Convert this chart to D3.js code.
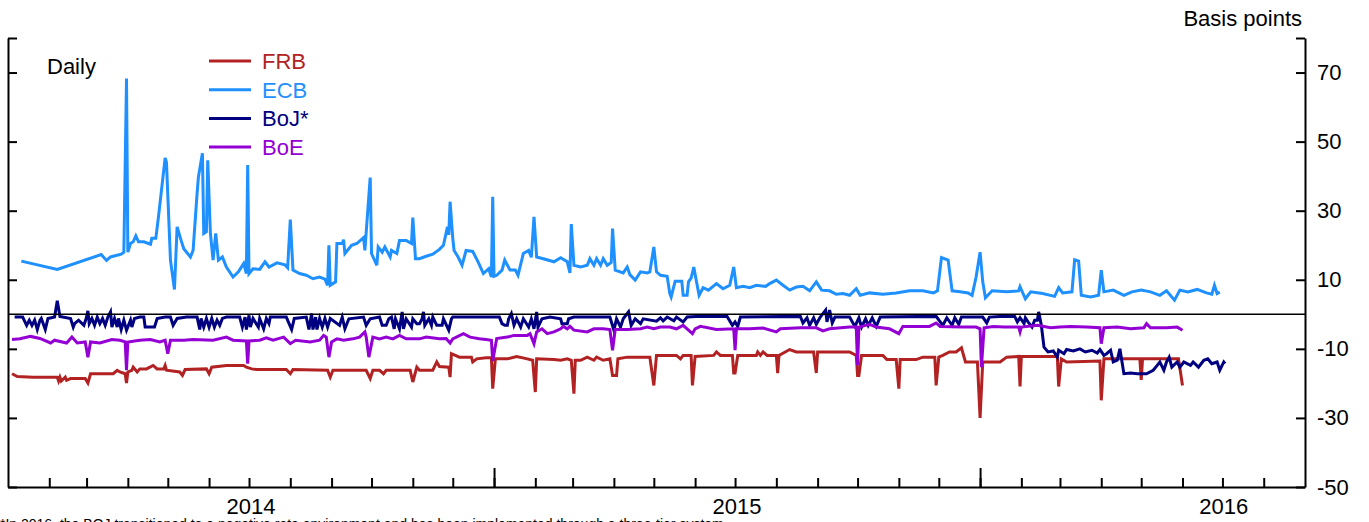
<!DOCTYPE html>
<html lang="en">
<head>
  <meta charset="UTF-8">
  <title>Overnight rates relative to policy rates</title>
  <style>
    body {
      margin: 0;
      background: #fff;
      font-family: "Liberation Sans", Arial, sans-serif;
    }
    svg { display: block; }
    .axis path, .axis line { stroke: #000; stroke-width: 2; }
    .axis text { font-family: "Liberation Sans", Arial, sans-serif; font-size: 22px; fill: #000; }
  </style>
</head>
<body>
  <div id="chart"></div>

  <script src="https://d3js.org/d3.v7.min.js"></script>
  <script>
    // Each point: [days since 1 Jan 2014, basis points]
    const frb = [[3,-17.2],[7,-18.0],[19,-18.2],[37,-18.2],[38,-19.3],[39,-18.2],[40,-19.3],[43,-18.2],[44,-19.1],[47,-18.6],[58,-18.6],[60,-19.9],[62,-17.2],[79,-17.2],[82,-16.2],[84,-16.7],[88,-17.2],[89,-19.9],[90,-16.7],[93,-16.2],[94,-15.3],[97,-16.7],[99,-15.8],[104,-15.8],[109,-14.8],[112,-15.8],[117,-15.8],[118,-14.8],[119,-16.2],[129,-16.7],[131,-17.7],[133,-16.0],[149,-15.8],[151,-17.2],[153,-15.3],[164,-14.8],[177,-14.8],[179,-15.3],[183,-15.8],[187,-16.0],[209,-16.0],[212,-17.2],[214,-16.0],[240,-16.2],[242,-18.2],[244,-16.2],[269,-16.2],[272,-18.6],[274,-16.2],[279,-16.2],[282,-17.2],[284,-16.2],[302,-16.2],[304,-19.6],[307,-15.3],[309,-16.2],[319,-16.2],[322,-13.8],[324,-15.1],[331,-15.3],[332,-18.2],[333,-11.4],[339,-12.4],[348,-12.4],[349,-13.8],[352,-12.9],[359,-12.6],[363,-12.6],[364,-21.5],[366,-12.9],[375,-12.9],[382,-12.2],[390,-12.9],[394,-13.3],[396,-22.5],[397,-12.9],[410,-13.1],[415,-13.3],[420,-12.9],[423,-13.3],[425,-23.0],[426,-13.3],[430,-13.3],[435,-12.4],[440,-13.3],[442,-12.4],[447,-13.3],[452,-12.9],[454,-17.7],[457,-17.7],[458,-12.9],[465,-12.4],[475,-12.4],[482,-12.4],[485,-20.6],[487,-11.9],[502,-11.9],[505,-12.9],[507,-11.9],[513,-11.9],[514,-20.6],[516,-12.2],[530,-11.9],[532,-10.9],[535,-11.9],[544,-11.9],[545,-17.0],[546,-17.0],[548,-11.9],[562,-11.9],[563,-10.9],[565,-11.9],[567,-10.9],[570,-11.9],[577,-11.9],[578,-17.0],[579,-11.9],[587,-10.2],[592,-10.9],[605,-10.9],[607,-17.0],[608,-10.9],[632,-10.9],[637,-11.9],[638,-17.7],[639,-17.7],[641,-11.9],[657,-11.9],[660,-13.1],[667,-13.1],[669,-21.5],[670,-13.1],[682,-13.1],[687,-12.4],[696,-12.4],[697,-20.6],[699,-12.4],[702,-11.9],[707,-10.9],[712,-10.9],[716,-9.7],[719,-13.8],[728,-13.8],[730,-30.0],[732,-13.8],[745,-13.8],[750,-12.4],[759,-12.2],[760,-20.9],[761,-12.2],[788,-12.2],[789,-20.9],[791,-12.9],[795,-13.8],[820,-13.5],[821,-24.9],[823,-12.9],[850,-12.9],[851,-19.0],[852,-12.9],[879,-12.9],[882,-20.6]];

    const ecb = [[10,15.4],[37,13.0],[70,17.3],[74,15.6],[77,16.6],[85,17.4],[87,18.0],[89,68.3],[90,18.0],[92,20.5],[94,21.0],[96,22.7],[98,21.0],[102,21.0],[107,20.3],[108,22.0],[111,22.0],[113,28.2],[118,45.3],[119,44.0],[122,15.7],[125,7.2],[127,25.3],[130,21.4],[132,19.0],[137,16.6],[139,18.5],[142,35.0],[143,39.8],[146,46.6],[147,23.4],[149,23.9],[150,44.6],[152,23.4],[154,15.7],[156,23.4],[158,15.7],[161,16.6],[164,13.7],[169,10.8],[173,12.3],[177,14.7],[179,11.8],[180,43.2],[181,11.8],[184,13.2],[189,13.0],[193,15.2],[196,13.7],[202,14.9],[208,14.3],[210,13.5],[212,27.4],[214,12.8],[219,11.8],[224,11.3],[229,10.3],[234,10.8],[238,10.2],[240,8.4],[241,20.0],[242,8.4],[246,9.4],[247,20.5],[251,20.5],[252,21.6],[253,17.6],[258,20.0],[262,20.5],[267,22.2],[268,18.5],[272,39.6],[273,17.6],[277,14.2],[278,19.5],[281,18.0],[283,19.5],[287,16.6],[288,18.5],[292,17.6],[294,21.4],[299,21.4],[303,20.5],[304,28.0],[306,16.1],[309,16.1],[314,16.8],[319,17.4],[324,18.8],[327,20.0],[330,25.3],[331,23.0],[332,32.6],[334,22.0],[335,18.5],[338,16.6],[341,14.2],[344,18.5],[349,18.2],[353,15.2],[357,11.8],[361,13.2],[363,10.8],[364,34.0],[365,11.0],[367,11.3],[371,12.8],[373,15.7],[377,12.8],[381,12.8],[383,11.3],[387,17.6],[391,18.5],[393,16.5],[395,28.2],[397,16.6],[402,16.1],[410,15.2],[415,16.4],[420,15.2],[422,12.0],[423,26.1],[425,14.2],[430,13.7],[435,14.2],[437,16.1],[440,14.2],[442,16.1],[445,14.2],[447,16.1],[450,14.2],[453,15.0],[454,24.8],[456,12.8],[462,12.0],[465,13.7],[467,11.5],[471,9.9],[475,12.3],[480,12.0],[482,12.3],[485,19.5],[487,12.3],[490,11.3],[495,11.0],[497,6.0],[498,5.0],[501,9.6],[506,9.6],[507,5.5],[510,5.5],[511,9.4],[513,10.5],[515,13.7],[517,9.5],[519,5.5],[522,7.7],[526,7.0],[532,8.9],[537,7.4],[542,8.4],[545,13.7],[547,7.7],[552,8.1],[557,7.7],[562,8.4],[569,8.1],[572,8.9],[577,9.9],[582,8.4],[587,7.0],[592,7.9],[597,8.1],[602,6.8],[607,9.4],[611,7.0],[617,6.8],[622,5.8],[627,6.0],[632,5.5],[637,7.4],[640,5.5],[647,6.2],[657,5.8],[667,6.2],[677,6.8],[687,6.8],[695,6.2],[698,6.8],[701,16.4],[706,15.7],[709,6.8],[715,6.5],[721,6.2],[724,5.5],[727,10.8],[730,18.0],[732,9.4],[734,4.8],[739,6.8],[750,6.5],[759,6.8],[760,8.0],[764,4.5],[768,6.5],[777,6.0],[786,5.2],[789,7.7],[792,6.2],[799,6.5],[801,15.8],[804,15.4],[806,5.5],[813,5.0],[819,5.5],[821,12.8],[823,6.5],[830,7.0],[838,5.5],[844,6.5],[851,7.0],[858,6.5],[865,5.5],[870,6.8],[876,4.1],[880,7.0],[886,6.5],[893,7.2],[900,6.2],[904,5.8],[906,8.4],[908,6.0],[910,6.4]];

    const boj = [[5,-0.8],[11,-0.8],[14,-3.2],[16,-1.7],[18,-3.2],[20,-1.7],[22,-4.4],[24,-1.7],[25,-1.2],[28,-4.4],[30,-1.2],[35,-0.8],[37,3.9],[39,-0.6],[47,-1.2],[49,-3.7],[50,-2.7],[53,-1.7],[57,-3.2],[59,-0.8],[60,1.0],[61,-2.7],[63,-1.2],[65,-3.2],[67,-0.8],[69,-2.7],[71,-1.2],[73,-3.2],[75,-0.8],[77,0.7],[78,-3.7],[80,-1.2],[82,-3.7],[83,-1.2],[85,-4.4],[87,-1.7],[89,-4.6],[92,-1.7],[93,-3.7],[95,-1.2],[99,-0.8],[102,-0.8],[103,-3.7],[110,-3.7],[112,-1.2],[118,-0.8],[122,-0.8],[124,-3.2],[127,-1.2],[134,-0.8],[142,-0.8],[144,-4.4],[145,-1.2],[147,-3.7],[149,-1.2],[151,-3.7],[153,-1.2],[155,-3.7],[157,-1.7],[159,-3.2],[161,-1.2],[164,-0.8],[174,-0.8],[176,-3.7],[178,-0.8],[179,-4.4],[181,-0.3],[182,-3.7],[184,-1.2],[188,-3.7],[189,-1.2],[192,-4.2],[194,-1.2],[196,-2.7],[197,-0.8],[209,-0.8],[213,-4.4],[215,-1.2],[224,-0.8],[226,-4.4],[228,0.2],[229,-4.4],[231,-0.8],[232,-4.4],[234,-1.2],[236,-3.7],[238,-1.2],[240,-3.7],[242,-1.2],[249,-3.2],[251,-0.8],[253,-4.2],[256,-1.3],[267,-0.8],[269,-3.2],[272,-1.3],[279,-0.8],[281,-3.2],[284,-3.2],[286,-1.3],[288,-0.8],[290,-4.2],[291,-1.3],[294,-4.2],[296,0.7],[297,-4.2],[299,-1.3],[303,-3.7],[304,-1.3],[307,-2.7],[309,-2.7],[311,-1.3],[312,0.7],[313,-3.2],[316,-1.3],[318,-3.2],[319,-0.8],[322,-3.2],[326,-3.2],[327,-1.3],[331,-4.6],[333,-1.3],[334,-0.8],[369,-0.8],[371,-2.7],[373,-3.2],[375,-3.2],[376,-1.3],[378,0.2],[380,-3.2],[382,-1.3],[385,-3.7],[387,-1.3],[391,-3.7],[393,-1.3],[395,-4.2],[397,0.7],[398,-3.7],[401,-1.3],[407,-0.8],[415,-1.3],[416,-2.7],[420,-2.7],[421,-1.3],[425,-0.8],[452,-0.8],[455,-4.6],[457,-1.3],[460,-3.7],[462,-1.3],[466,0.7],[468,-3.2],[471,-1.3],[475,-2.7],[477,-1.3],[487,-2.0],[490,-1.0],[492,-1.9],[495,-0.8],[500,-1.9],[502,-0.8],[507,-2.2],[510,-0.8],[517,-0.6],[540,-0.6],[544,-3.2],[546,-2.2],[548,-3.5],[550,-0.8],[595,-0.6],[597,-2.5],[600,-1.0],[602,-3.2],[605,-1.0],[607,-2.9],[610,-0.8],[614,1.2],[615,-2.2],[617,1.2],[619,-2.5],[621,-0.8],[632,-0.8],[636,-3.5],[639,-1.0],[641,-3.7],[644,-1.3],[646,-3.2],[649,-1.0],[652,-3.5],[655,-0.8],[697,-0.6],[702,-3.2],[705,-1.0],[709,-3.2],[711,-1.0],[714,-2.9],[716,-0.8],[732,-0.8],[735,-2.5],[737,-0.8],[745,-0.6],[756,-0.6],[758,-2.2],[760,-1.0],[763,-2.7],[764,-1.0],[766,-2.2],[769,-3.7],[771,-1.7],[773,-1.7],[774,0.7],[776,-3.2],[778,-9.5],[781,-10.9],[785,-10.6],[788,-12.4],[789,-10.4],[793,-11.4],[795,-10.2],[800,-10.6],[805,-10.0],[809,-10.9],[814,-10.4],[818,-11.2],[820,-10.2],[823,-11.9],[825,-11.4],[828,-10.4],[830,-13.8],[833,-13.3],[835,-10.0],[838,-17.2],[843,-17.0],[848,-17.2],[855,-17.2],[860,-16.2],[863,-14.8],[865,-13.8],[868,-16.2],[870,-13.8],[872,-12.4],[874,-15.3],[878,-13.8],[880,-15.3],[883,-13.8],[888,-14.8],[890,-13.8],[894,-15.3],[898,-13.3],[901,-12.9],[904,-14.3],[908,-13.8],[910,-16.2],[913,-13.8],[914,-14.3]];

    const boe = [[3,-7.3],[9,-7.1],[17,-6.4],[24,-7.0],[32,-8.3],[35,-7.5],[44,-8.3],[48,-6.6],[52,-8.3],[58,-8.0],[60,-12.4],[62,-8.0],[69,-8.3],[78,-7.3],[84,-7.5],[88,-8.0],[89,-16.2],[90,-8.0],[99,-7.5],[107,-7.3],[114,-8.0],[118,-7.5],[120,-11.4],[122,-7.5],[132,-7.5],[139,-7.3],[154,-7.5],[164,-6.6],[169,-7.5],[179,-7.7],[180,-14.3],[181,-7.7],[189,-7.5],[194,-6.8],[199,-7.5],[207,-6.6],[212,-8.5],[216,-7.5],[227,-8.0],[234,-7.5],[237,-6.1],[239,-6.6],[241,-12.4],[243,-8.0],[247,-7.1],[252,-7.5],[259,-7.1],[264,-6.6],[268,-5.1],[269,-6.6],[271,-12.4],[274,-6.6],[279,-7.1],[284,-6.6],[289,-7.1],[294,-6.1],[299,-7.1],[309,-7.1],[314,-6.6],[324,-7.1],[329,-7.0],[332,-8.3],[334,-7.1],[342,-5.6],[347,-6.6],[354,-7.1],[359,-7.3],[363,-7.5],[364,-13.5],[367,-7.0],[375,-6.6],[380,-6.1],[390,-6.1],[392,-5.6],[395,-8.5],[397,-5.1],[401,-4.2],[405,-5.6],[410,-5.1],[415,-4.2],[417,-3.5],[420,-4.2],[422,-3.5],[425,-4.6],[435,-5.1],[440,-4.2],[447,-4.2],[452,-4.4],[454,-10.4],[456,-4.4],[465,-4.4],[475,-4.2],[480,-3.7],[485,-4.2],[490,-3.7],[497,-3.7],[502,-4.2],[507,-3.2],[514,-5.6],[516,-4.2],[520,-3.5],[532,-4.4],[545,-4.2],[546,-10.4],[547,-4.2],[557,-4.2],[567,-4.0],[577,-5.1],[580,-4.2],[595,-3.9],[607,-3.9],[612,-4.8],[617,-4.2],[632,-3.7],[637,-3.7],[638,-14.8],[639,-3.7],[647,-2.9],[652,-3.7],[662,-4.2],[669,-5.6],[672,-3.5],[682,-3.5],[692,-3.5],[697,-2.5],[700,-3.5],[717,-3.7],[727,-3.7],[730,-4.2],[731,-15.3],[733,-3.9],[740,-3.5],[748,-3.7],[759,-3.7],[760,-5.1],[761,-3.7],[773,-3.2],[783,-3.9],[790,-3.7],[798,-3.5],[810,-3.7],[820,-3.9],[821,-8.5],[823,-3.9],[833,-3.7],[843,-4.2],[853,-3.9],[855,-2.7],[858,-3.9],[870,-3.9],[878,-3.7],[882,-4.6]];

    const seriesNames = ["FRB", "ECB", "BoJ*", "BoE"];
    const seriesColors = ["#b22222", "#1e90ff", "#000080", "#9400d3"];
    const seriesData = [frb, ecb, boj, boe];

    const yTicks = [70, 50, 30, 10, -10, -30, -50];
    const yearLabels = ["2014", "2015", "2016"];
    const footnote = "*In 2016, the BOJ transitioned to a negative rate environment and has been implemented through a three-tier system.";

    const W = 1369, H = 522;
    const start = new Date(Date.UTC(2014, 0, 1));
    const end = new Date(Date.UTC(2016, 8, 1));

    const x = d3.scaleUtc().domain([start, end]).range([8, 1305]);
    const y = d3.scaleLinear().domain([-50, 80]).range([487, 38]);

    const svg = d3.select("#chart").append("svg")
      .attr("width", W)
      .attr("height", H)
      .style("background", "#fff");

    // month ticks (short) and year ticks (long), both pointing into the plot
    const months = d3.utcMonth.range(d3.utcMonth.offset(start, 1), end);
    const years = d3.utcYear.range(d3.utcYear.offset(start, 1), end);

    svg.append("g")
      .attr("class", "axis")
      .attr("transform", `translate(0,${y(-50)})`)
      .call(d3.axisBottom(x).tickValues(months).tickSizeInner(-9).tickSizeOuter(0).tickFormat(""));

    svg.append("g")
      .attr("class", "axis")
      .attr("transform", `translate(0,${y(-50)})`)
      .call(d3.axisBottom(x).tickValues(years).tickSizeInner(-19).tickSizeOuter(0).tickFormat(""))
      .call(g => g.select(".domain").remove());

    // year labels centred on each year
    svg.append("g").selectAll("text")
      .data(yearLabels)
      .join("text")
      .attr("x", d => {
        const a = new Date(Date.UTC(+d, 0, 1)), b = new Date(Date.UTC(+d + 1, 0, 1));
        return (x(a) + x(b)) / 2;
      })
      .attr("y", 514)
      .attr("text-anchor", "middle")
      .style("font-size", "22px")
      .text(d => d);

    // left axis: ticks only
    svg.append("g")
      .attr("class", "axis")
      .attr("transform", `translate(${x(start)},0)`)
      .call(d3.axisLeft(y).tickValues([80, ...yTicks]).tickSizeInner(-9).tickSizeOuter(0).tickFormat(""));

    // right axis with labels
    svg.append("g")
      .attr("class", "axis")
      .attr("transform", `translate(${x(end)},0)`)
      .call(d3.axisRight(y).tickValues([80, ...yTicks]).tickSizeInner(-9).tickSizeOuter(0)
        .tickPadding(12).tickFormat(d => d === 80 ? "" : d));

    svg.append("text")
      .attr("x", 1302)
      .attr("y", 26)
      .attr("text-anchor", "end")
      .style("font-size", "22px")
      .text("Basis points");

    svg.append("text")
      .attr("x", 47)
      .attr("y", 74)
      .style("font-size", "22px")
      .text("Daily");

    // series
    const line = d3.line()
      .x(d => x(d3.utcDay.offset(start, d[0])))
      .y(d => y(d[1]));

    seriesData.forEach((s, i) => {
      svg.append("path")
        .datum(s)
        .attr("fill", "none")
        .attr("stroke", seriesColors[i])
        .attr("stroke-width", 3)
        .attr("d", line);
    });

    // zero line
    svg.append("line")
      .attr("x1", x(start))
      .attr("x2", x(end))
      .attr("y1", y(0))
      .attr("y2", y(0))
      .attr("stroke", "#000")
      .attr("stroke-width", 1.6);

    // legend
    const legend = svg.append("g").attr("transform", "translate(209,61)");
    seriesNames.forEach((name, i) => {
      const row = legend.append("g").attr("transform", `translate(0,${i * 28.7})`);
      row.append("line")
        .attr("x1", 0).attr("x2", 42)
        .attr("stroke", seriesColors[i])
        .attr("stroke-width", 3);
      row.append("text")
        .attr("x", 53)
        .attr("y", 8)
        .attr("fill", seriesColors[i])
        .style("font-size", "22px")
        .text(name);
    });

    // footnote, mostly below the visible area as in the original
    svg.append("text")
      .attr("x", 0)
      .attr("y", 529)
      .style("font-size", "14px")
      .text(footnote);
  </script>
</body>
</html>
